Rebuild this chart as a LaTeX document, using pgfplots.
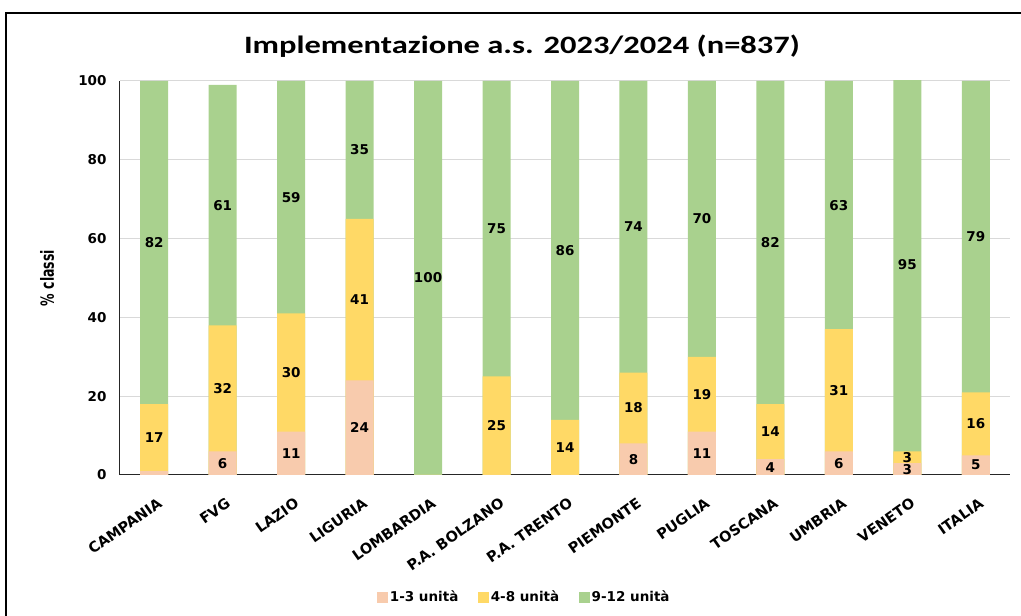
\documentclass[border=0pt]{standalone}
\usepackage{pgfplots}
\pgfplotsset{compat=1.18}
\usepackage{pgfplotstable}
\usepackage{graphicx}
\usepackage{fontspec}
\setmainfont{DejaVu Sans}
\newfontfamily\titlefont{Carlito}[FakeStretch=1.3]
\definecolor{cA}{HTML}{F8CBAD}
\definecolor{cB}{HTML}{FFD966}
\definecolor{cC}{HTML}{A9D18E}
\definecolor{gridc}{HTML}{D9D9D9}
\pgfplotstableread{
x a b c
0 1 17 82
1 6 32 61
2 11 30 59
3 24 41 35
4 0 0 100
5 0 25 75
6 0 14 86
7 8 18 74
8 11 19 70
9 4 14 82
10 6 31 63
11 3 3 95
12 5 16 79
}\datatable
\newcommand{\lab}{\bfseries\fontsize{13.5}{15}\selectfont}
\newcommand{\xlab}{\bfseries\fontsize{14.5}{16}\selectfont}
\begin{document}
\begin{tikzpicture}
\useasboundingbox (0,0) rectangle (1021pt,616pt);
\draw[line width=2pt] (6pt,0) -- (6pt,603pt) -- (1021pt,603pt);
\node[font=\titlefont\bfseries\fontsize{25}{28}\selectfont] at (522pt,570pt) {Implementazione a.s. 2023/2024 (n=837)};
\begin{axis}[
  at={(120pt,141pt)}, anchor=south west,
  scale only axis, width=890pt, height=394pt,
  xmin=-0.5, xmax=12.5, ymin=0, ymax=100,
  xtick={0,...,12},
  xticklabels={CAMPANIA,FVG,LAZIO,LIGURIA,LOMBARDIA,P.A. BOLZANO,P.A. TRENTO,PIEMONTE,PUGLIA,TOSCANA,UMBRIA,VENETO,ITALIA},
  ytick={0,20,...,100},
  axis x line*=bottom, axis y line*=left,
  axis line style={black!85, line width=1pt},
  major tick length=0pt,
  ymajorgrids, grid style={gridc, line width=1pt},
  /pgf/number format/assume math mode=true,
  yticklabel style={font=\lab, xshift=-10pt},
  xticklabel style={font=\xlab, rotate=35, anchor=east, xshift=-7pt, yshift=-25pt},
  ylabel={\scalebox{1}[1.45]{\% classi}},
  ylabel style={font=\bfseries\fontsize{12.5}{14}\selectfont, at={(axis description cs:-0.082,0.5)}, anchor=center},
  legend style={draw=none, at={(axis description cs:0.4545,-0.31)}, anchor=center,
    font=\lab, legend columns=3, /tikz/every even column/.append style={column sep=18pt}},
  legend image code/.code={\fill[#1] (0pt,-5pt) rectangle (10pt,5pt);},
  nodes near coords style={font=\lab, anchor=center, text=black},
]
\addplot[ybar, bar width=28pt, bar shift=0pt, fill=cC, draw=none, forget plot] table[x=x, y expr=\thisrow{a}+\thisrow{b}+\thisrow{c}] {\datatable};
\addplot[ybar, bar width=28pt, bar shift=0pt, fill=cB, draw=none, forget plot] table[x=x, y expr=\thisrow{a}+\thisrow{b}] {\datatable};
\addplot[ybar, bar width=28pt, bar shift=0pt, fill=cA, draw=none, forget plot] table[x=x, y=a] {\datatable};
\addplot[draw=none, mark=none, forget plot, nodes near coords, point meta=explicit] table[x=x, y expr={\thisrow{a}<2 ? nan : \thisrow{a}/2}, meta=a] {\datatable};
\addplot[draw=none, mark=none, forget plot, nodes near coords, point meta=explicit] table[x=x, y expr={\thisrow{b}<2 ? nan : \thisrow{a}+\thisrow{b}/2}, meta=b] {\datatable};
\addplot[draw=none, mark=none, forget plot, nodes near coords, point meta=explicit] table[x=x, y expr={\thisrow{c}<2 ? nan : \thisrow{a}+\thisrow{b}+\thisrow{c}/2}, meta=c] {\datatable};
\addlegendimage{cA}
\addlegendentry{1-3 unità}
\addlegendimage{cB}
\addlegendentry{4-8 unità}
\addlegendimage{cC}
\addlegendentry{9-12 unità}
\end{axis}
\end{tikzpicture}
\end{document}
